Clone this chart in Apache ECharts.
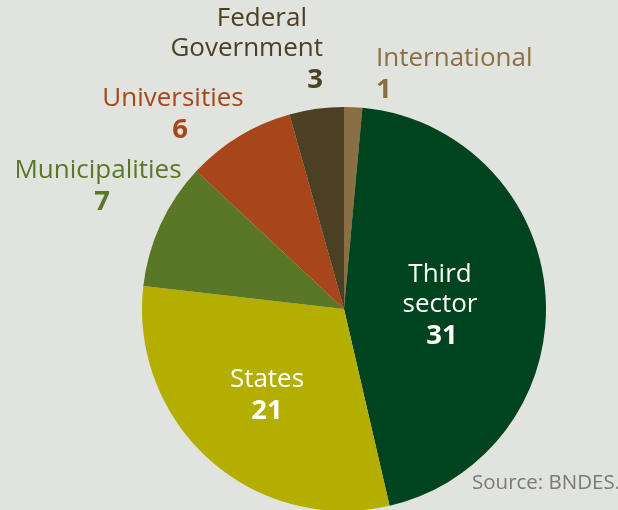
<!DOCTYPE html>
<html><head><meta charset="utf-8">
<script src="https://cdn.jsdelivr.net/npm/echarts@6/dist/echarts.min.js"></script>
<style>html,body{margin:0;padding:0;background:#e1e3de;}#c{width:618px;height:510px;}</style>
</head><body><div id="c"></div>
<script>
const categories = ['International', 'Third sector', 'States', 'Municipalities', 'Universities', 'Federal Government'];
const labelNames = ['International', 'Third\nsector', 'States', 'Municipalities', 'Universities', 'Federal\nGovernment'];
const values = [1, 31, 21, 7, 6, 3];
const colors = ['#8a6f45', '#00441f', '#b3ae00', '#5a7728', '#a6461a', '#4b4024'];
const labelColors = ['#8a6f45', '#ffffff', '#ffffff', '#5a7728', '#a6461a', '#4b4024'];
// label anchor placement (layout only)
const labelPlaces = {
  'International': {x: 376, y: 75, align: 'left', vpad: 0},
  'Third sector': {x: 440, y: 306, align: 'center', vpad: 4},
  'States': {x: 267, y: 396, align: 'center', vpad: 0},
  'Municipalities': {x: 98, y: 187, align: 'center', vpad: 8},
  'Universities': {x: 173, y: 115, align: 'center', vpad: 14},
  'Federal Government': {x: 323, y: 50, align: 'right', vpad: 0}
};
const chart = echarts.init(document.getElementById('c'));
const font = '"Open Sans", "Noto Sans", sans-serif';
chart.setOption({
  backgroundColor: '#e1e3de',
  animation: false,
  graphic: [{type: 'text', x: 472, y: 483, style: {text: 'Source: BNDES.', fill: '#7a7a7a', font: '20.5px ' + font, textVerticalAlign: 'middle'}}],
  series: [{
    type: 'pie',
    center: [344, 309],
    radius: 202,
    startAngle: 90,
    clockwise: true,
    avoidLabelOverlap: false,
    labelLine: {show: false},
    data: categories.map((c, i) => ({
      name: c, value: values[i],
      itemStyle: {color: colors[i]},
      label: {
        formatter: labelNames[i].split('\n').map((s, k) => (c === 'Federal Government' && k === 0 ? '{f|' : '{n|') + s + '}').join('\n') + '\n{v|{c}}',
        rich: {
          n: {color: labelColors[i], fontSize: 26, fontFamily: font, lineHeight: 30, align: labelPlaces[c].align},
          f: {color: labelColors[i], fontSize: 26, fontFamily: font, lineHeight: 30, align: labelPlaces[c].align, padding: [0, 16, 0, 0]},
          v: {color: labelColors[i], fontSize: 27.5, fontWeight: 'bold', fontFamily: font, lineHeight: 33, align: labelPlaces[c].align, padding: [0, 0, 0, labelPlaces[c].vpad]}
        }
      }
    })),
    label: {show: true, position: 'inside'}
  }]
});
chart.setOption({
  series: [{
    labelLayout: function (p) {
      const pl = labelPlaces[categories[p.dataIndex]];
      return {x: pl.x, y: pl.y, align: pl.align, verticalAlign: 'middle'};
    }
  }]
});
</script></body></html>
